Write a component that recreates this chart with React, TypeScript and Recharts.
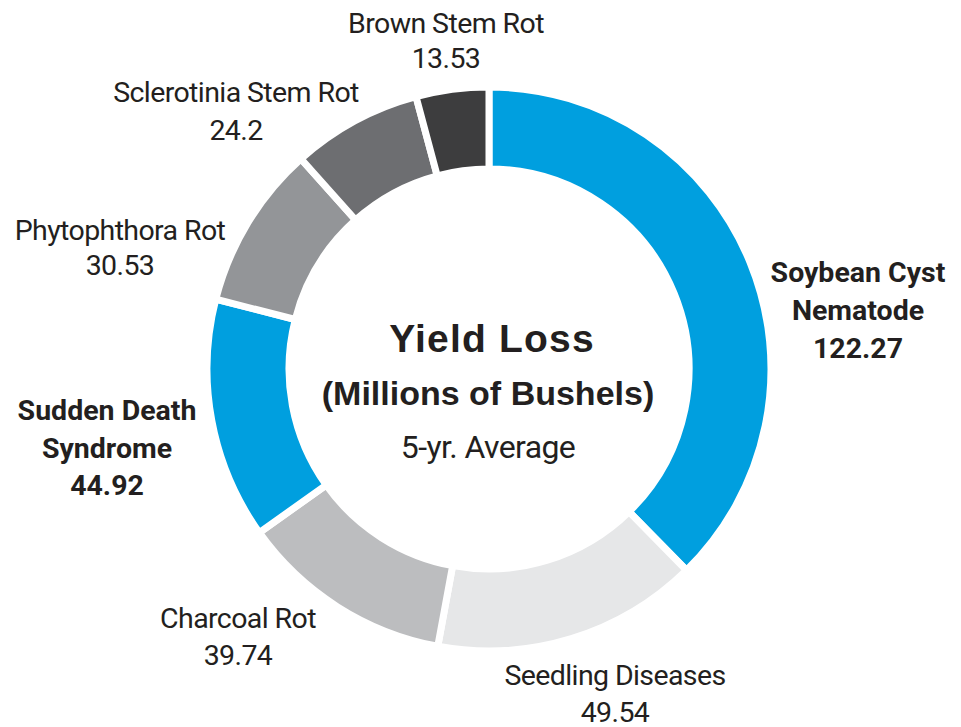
import { Label, Pie, PieChart, Cell } from "recharts";

const names = [
  "Soybean Cyst Nematode",
  "Seedling Diseases",
  "Charcoal Rot",
  "Sudden Death Syndrome",
  "Phytophthora Rot",
  "Sclerotinia Stem Rot",
  "Brown Stem Rot",
];
const values = [122.27, 49.54, 39.74, 44.92, 30.53, 24.2, 13.53];
const labelLines = [
  ["Soybean Cyst", "Nematode"],
  ["Seedling Diseases"],
  ["Charcoal Rot"],
  ["Sudden Death", "Syndrome"],
  ["Phytophthora Rot"],
  ["Sclerotinia Stem Rot"],
  ["Brown Stem Rot"],
];
const highlighted = ["Soybean Cyst Nematode", "Sudden Death Syndrome"];

const colors = ["#009fdf", "#e6e7e8", "#bcbdbf", "#009fdf", "#939598", "#6d6e71", "#3d3d3e"];

const CX = 489;
const CY = 369;

// where each label block sits (center x, first baseline, line gap)
const labelPos: Record<string, { x: number; y: number; gap: number }> = {
  "Soybean Cyst Nematode": { x: 858, y: 282, gap: 38 },
  "Seedling Diseases": { x: 615, y: 685, gap: 37 },
  "Charcoal Rot": { x: 238, y: 628, gap: 37 },
  "Sudden Death Syndrome": { x: 107, y: 420, gap: 37.5 },
  "Phytophthora Rot": { x: 120, y: 240, gap: 35 },
  "Sclerotinia Stem Rot": { x: 236, y: 102, gap: 38 },
  "Brown Stem Rot": { x: 446, y: 33, gap: 35 },
};

const data = names.map((name, i) => ({ name, value: values[i] }));

const condensed = "Roboto, 'Liberation Sans', sans-serif";
const textColor = "#231f20";

function SliceLabel(props: any) {
  const idx = props.index;
  const name = names[idx];
  const pos = labelPos[name];
  const bold = highlighted.includes(name);
  const lines = [...labelLines[idx], String(values[idx])];
  return (
    <text
      textAnchor="middle"
      fill={textColor}
      fontFamily={condensed}
      fontSize={28.5}
      fontWeight={bold ? 700 : 400}
      style={{ letterSpacing: bold ? "0px" : "-0.6px" }}
    >
      {lines.map((l, k) => (
        <tspan key={k} x={pos.x} y={pos.y + k * pos.gap}>
          {l}
        </tspan>
      ))}
    </text>
  );
}

function CenterLabel() {
  return (
    <g fill={textColor}>
      <text
        x={CX + 3}
        y={CY - 17}
        textAnchor="middle"
        fontFamily="'Liberation Sans', Arial, sans-serif"
        fontWeight={700}
        fontSize={39}
        style={{ letterSpacing: "1.2px" }}
      >
        Yield Loss
      </text>
      <text
        x={CX - 1}
        y={CY + 36}
        textAnchor="middle"
        fontFamily="'Liberation Sans', Arial, sans-serif"
        fontWeight={700}
        fontSize={34}
      >
        (Millions of Bushels)
      </text>
      <text
        x={CX - 1}
        y={CY + 89}
        textAnchor="middle"
        fontFamily={condensed}
        fontSize={32}
        style={{ letterSpacing: "-0.6px" }}
      >
        5-yr. Average
      </text>
    </g>
  );
}

export default function App() {
  return (
    <div style={{ position: "absolute", left: 0, top: 0, background: "#fff" }}>
      <PieChart width={961} height={727} margin={{ top: 0, right: 0, bottom: 0, left: 0 }}>
        <Pie
          data={data}
          dataKey="value"
          nameKey="name"
          cx={CX}
          cy={CY}
          innerRadius={200}
          outerRadius={282}
          startAngle={90}
          endAngle={-270}
          stroke="#ffffff"
          strokeWidth={7}
          label={SliceLabel}
          labelLine={false}
          isAnimationActive={false}
        >
          {data.map((d, i) => (
            <Cell key={d.name} fill={colors[i]} />
          ))}
          <Label position="center" content={CenterLabel} />
        </Pie>
      </PieChart>
    </div>
  );
}
